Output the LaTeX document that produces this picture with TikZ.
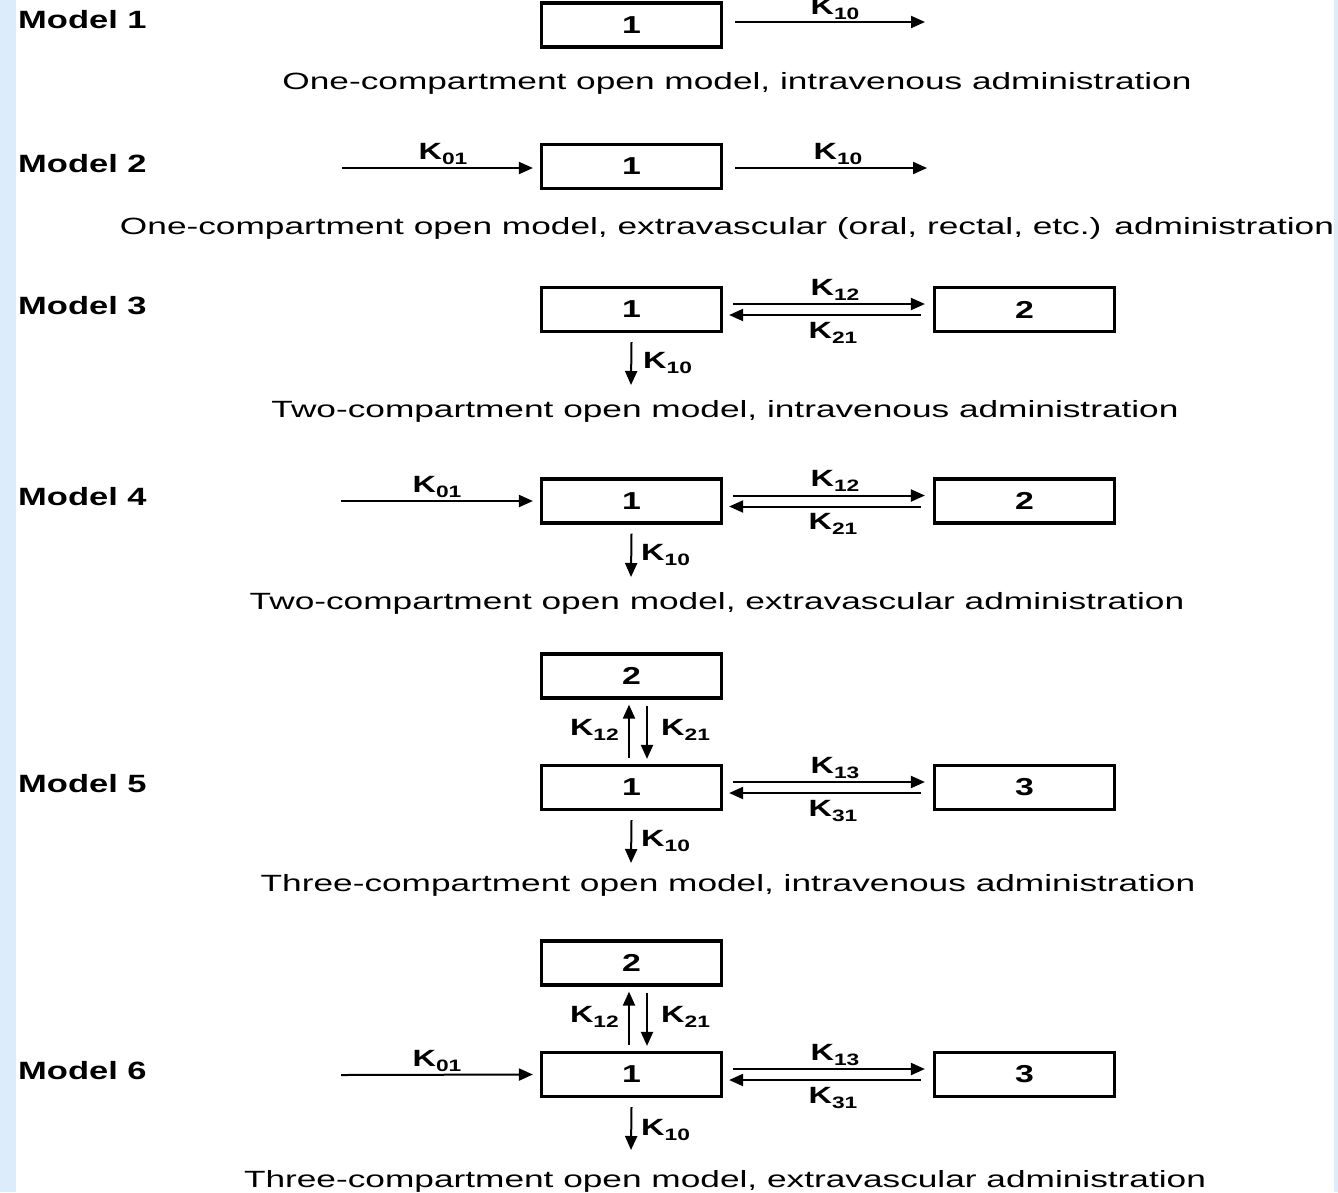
\documentclass[tikz,border=0pt]{standalone}
\usepackage{fontspec}
\setmainfont[FakeStretch=1.38]{Liberation Sans}
\newfontfamily\capfont[FakeStretch=1.5]{Liberation Sans}
\usetikzlibrary{arrows.meta}
\definecolor{strip}{RGB}{221,236,250}
\newcommand{\Kk}[1]{K\raisebox{-4.5pt}{\fontsize{16.5}{16.5}\selectfont #1}}
\tikzset{
  comp/.style={draw, line width=3.2pt, minimum width=180pt, minimum height=44pt, inner sep=0pt,
    font=\fontsize{24.5}{24.5}\selectfont\bfseries},
  arr/.style={line width=2pt, -{Triangle[length=14pt,width=12pt]}},
  klab/.style={font=\fontsize{23.5}{23.5}\selectfont\bfseries, inner sep=0pt},
  mlab/.style={font=\fontsize{25}{25}\selectfont\bfseries, anchor=base west, inner sep=0pt},
  captxt/.style={font=\capfont\fontsize{23.5}{23.5}\selectfont, anchor=base, inner sep=0pt},
  num/.style={yshift=-2pt},
}
\begin{document}
\begin{tikzpicture}[x=1pt,y=-1pt]
\useasboundingbox (0,0) rectangle (1338,1192);
\fill[strip] (0,0) rectangle (16,1192);
\fill[strip] (1334,0) rectangle (1338,1192);

% ---------- Model 1
\node[mlab] (m1) at (18,28) {Model 1};
\node[comp] (a1) at (631.5,25) {\raisebox{-2pt}{1}};
\coordinate (a1out) at (925,22);
\draw[arr] ([xshift=12pt,yshift=3pt]a1.east) -- (a1out);
\node[klab] (a1k) at (835,9) {\Kk{10}};
\node[captxt] (c1) at (737,89) {One-compartment open model, intravenous administration};

% ---------- Model 2
\node[mlab] (m2) at (18,172) {Model 2};
\node[comp] (b1) at (631.5,166.5) {\raisebox{-2pt}{1}};
\coordinate (b1in) at (342,168);
\coordinate (b1out) at (927,168);
\draw[arr] (b1in) -- ([xshift=-7pt,yshift=-1.5pt]b1.west);
\draw[arr] ([xshift=12pt,yshift=-1.5pt]b1.east) -- (b1out);
\node[klab] (b1k1) at (443,154) {\Kk{01}};
\node[klab] (b1k2) at (838,154) {\Kk{10}};
\node[captxt] (c2) at (727,234) {One-compartment open model, extravascular (oral, rectal, etc.) administration};

% ---------- Model 3
\node[mlab] (m3) at (18,314) {Model 3};
\node[comp] (c31) at (631.5,309.5) {\raisebox{-2pt}{1}};
\node[comp] (c32) at (1024.5,309.5) {\raisebox{-2pt}{2}};
\draw[arr] ([xshift=10pt,yshift=5.5pt]c31.east) -- ([xshift=-8pt,yshift=5.5pt]c32.west);
\draw[arr] ([xshift=-12pt,yshift=-5.5pt]c32.west) -- ([xshift=6pt,yshift=-5.5pt]c31.east);
\node[klab] (c3k1) at (835,290) {\Kk{12}};
\node[klab] (c3k2) at (833,333) {\Kk{21}};
\coordinate (c3out) at (631,385);
\draw[arr] ([yshift=-9pt]c31.south) -- (c3out);
\node[klab, anchor=west] (c3k3) at (643,363) {\Kk{10}};
\node[captxt] (c3) at (725,417) {Two-compartment open model, intravenous administration};

% ---------- Model 4
\node[mlab] (m4) at (18,505) {Model 4};
\node[comp] (d1) at (631.5,501) {\raisebox{-2pt}{1}};
\node[comp] (d2) at (1024.5,501) {\raisebox{-2pt}{2}};
\coordinate (d1in) at (341,501);
\draw[arr] (d1in) -- ([xshift=-7pt]d1.west);
\node[klab] (d1k0) at (437,487) {\Kk{01}};
\draw[arr] ([xshift=10pt,yshift=5.5pt]d1.east) -- ([xshift=-8pt,yshift=5.5pt]d2.west);
\draw[arr] ([xshift=-12pt,yshift=-5.5pt]d2.west) -- ([xshift=6pt,yshift=-5.5pt]d1.east);
\node[klab] (d1k1) at (835,481) {\Kk{12}};
\node[klab] (d1k2) at (833,524) {\Kk{21}};
\coordinate (d1out) at (631,577);
\draw[arr] ([yshift=-9pt]d1.south) -- (d1out);
\node[klab, anchor=west] (d1k3) at (641,555) {\Kk{10}};
\node[captxt] (c4) at (717,609) {Two-compartment open model, extravascular administration};

% ---------- Model 5
\node[mlab] (m5) at (18,792) {Model 5};
\node[comp] (e2) at (631.5,676) {\raisebox{-2pt}{2}};
\node[comp] (e1) at (631.5,787.5) {\raisebox{-2pt}{1}};
\node[comp] (e3) at (1024.5,787.5) {\raisebox{-2pt}{3}};
\draw[arr] ([xshift=-2.5pt,yshift=6pt]e1.north) -- ([xshift=-2.5pt,yshift=-5pt]e2.south);
\draw[arr] ([xshift=15.5pt,yshift=-6pt]e2.south) -- ([xshift=15.5pt,yshift=5pt]e1.north);
\node[klab, anchor=east] (e1k1) at (619,730) {\Kk{12}};
\node[klab, anchor=west] (e1k2) at (661,730) {\Kk{21}};
\draw[arr] ([xshift=10pt,yshift=5.5pt]e1.east) -- ([xshift=-8pt,yshift=5.5pt]e3.west);
\draw[arr] ([xshift=-12pt,yshift=-5.5pt]e3.west) -- ([xshift=6pt,yshift=-5.5pt]e1.east);
\node[klab] (e1k3) at (835,768) {\Kk{13}};
\node[klab] (e1k4) at (833,811) {\Kk{31}};
\coordinate (e1out) at (631,863);
\draw[arr] ([yshift=-9pt]e1.south) -- (e1out);
\node[klab, anchor=west] (e1k5) at (641,841) {\Kk{10}};
\node[captxt] (c5) at (728,891) {Three-compartment open model, intravenous administration};

% ---------- Model 6
\node[mlab] (m6) at (18,1079) {Model 6};
\node[comp] (f2) at (631.5,963) {\raisebox{-2pt}{2}};
\node[comp] (f1) at (631.5,1074.5) {\raisebox{-2pt}{1}};
\node[comp] (f3) at (1024.5,1074.5) {\raisebox{-2pt}{3}};
\coordinate (f1in) at (341,1075);
\draw[arr] (f1in) -- ([xshift=-7pt]f1.west);
\node[klab] (f1k0) at (437,1061) {\Kk{01}};
\draw[arr] ([xshift=-2.5pt,yshift=6pt]f1.north) -- ([xshift=-2.5pt,yshift=-5pt]f2.south);
\draw[arr] ([xshift=15.5pt,yshift=-6pt]f2.south) -- ([xshift=15.5pt,yshift=5pt]f1.north);
\node[klab, anchor=east] (f1k1) at (619,1017) {\Kk{12}};
\node[klab, anchor=west] (f1k2) at (661,1017) {\Kk{21}};
\draw[arr] ([xshift=10pt,yshift=5.5pt]f1.east) -- ([xshift=-8pt,yshift=5.5pt]f3.west);
\draw[arr] ([xshift=-12pt,yshift=-5.5pt]f3.west) -- ([xshift=6pt,yshift=-5.5pt]f1.east);
\node[klab] (f1k3) at (835,1055) {\Kk{13}};
\node[klab] (f1k4) at (833,1098) {\Kk{31}};
\coordinate (f1out) at (631,1150);
\draw[arr] ([yshift=-9pt]f1.south) -- (f1out);
\node[klab, anchor=west] (f1k5) at (641,1130) {\Kk{10}};
\node[captxt] (c6) at (725,1187) {Three-compartment open model, extravascular administration};
\end{tikzpicture}
\end{document}
